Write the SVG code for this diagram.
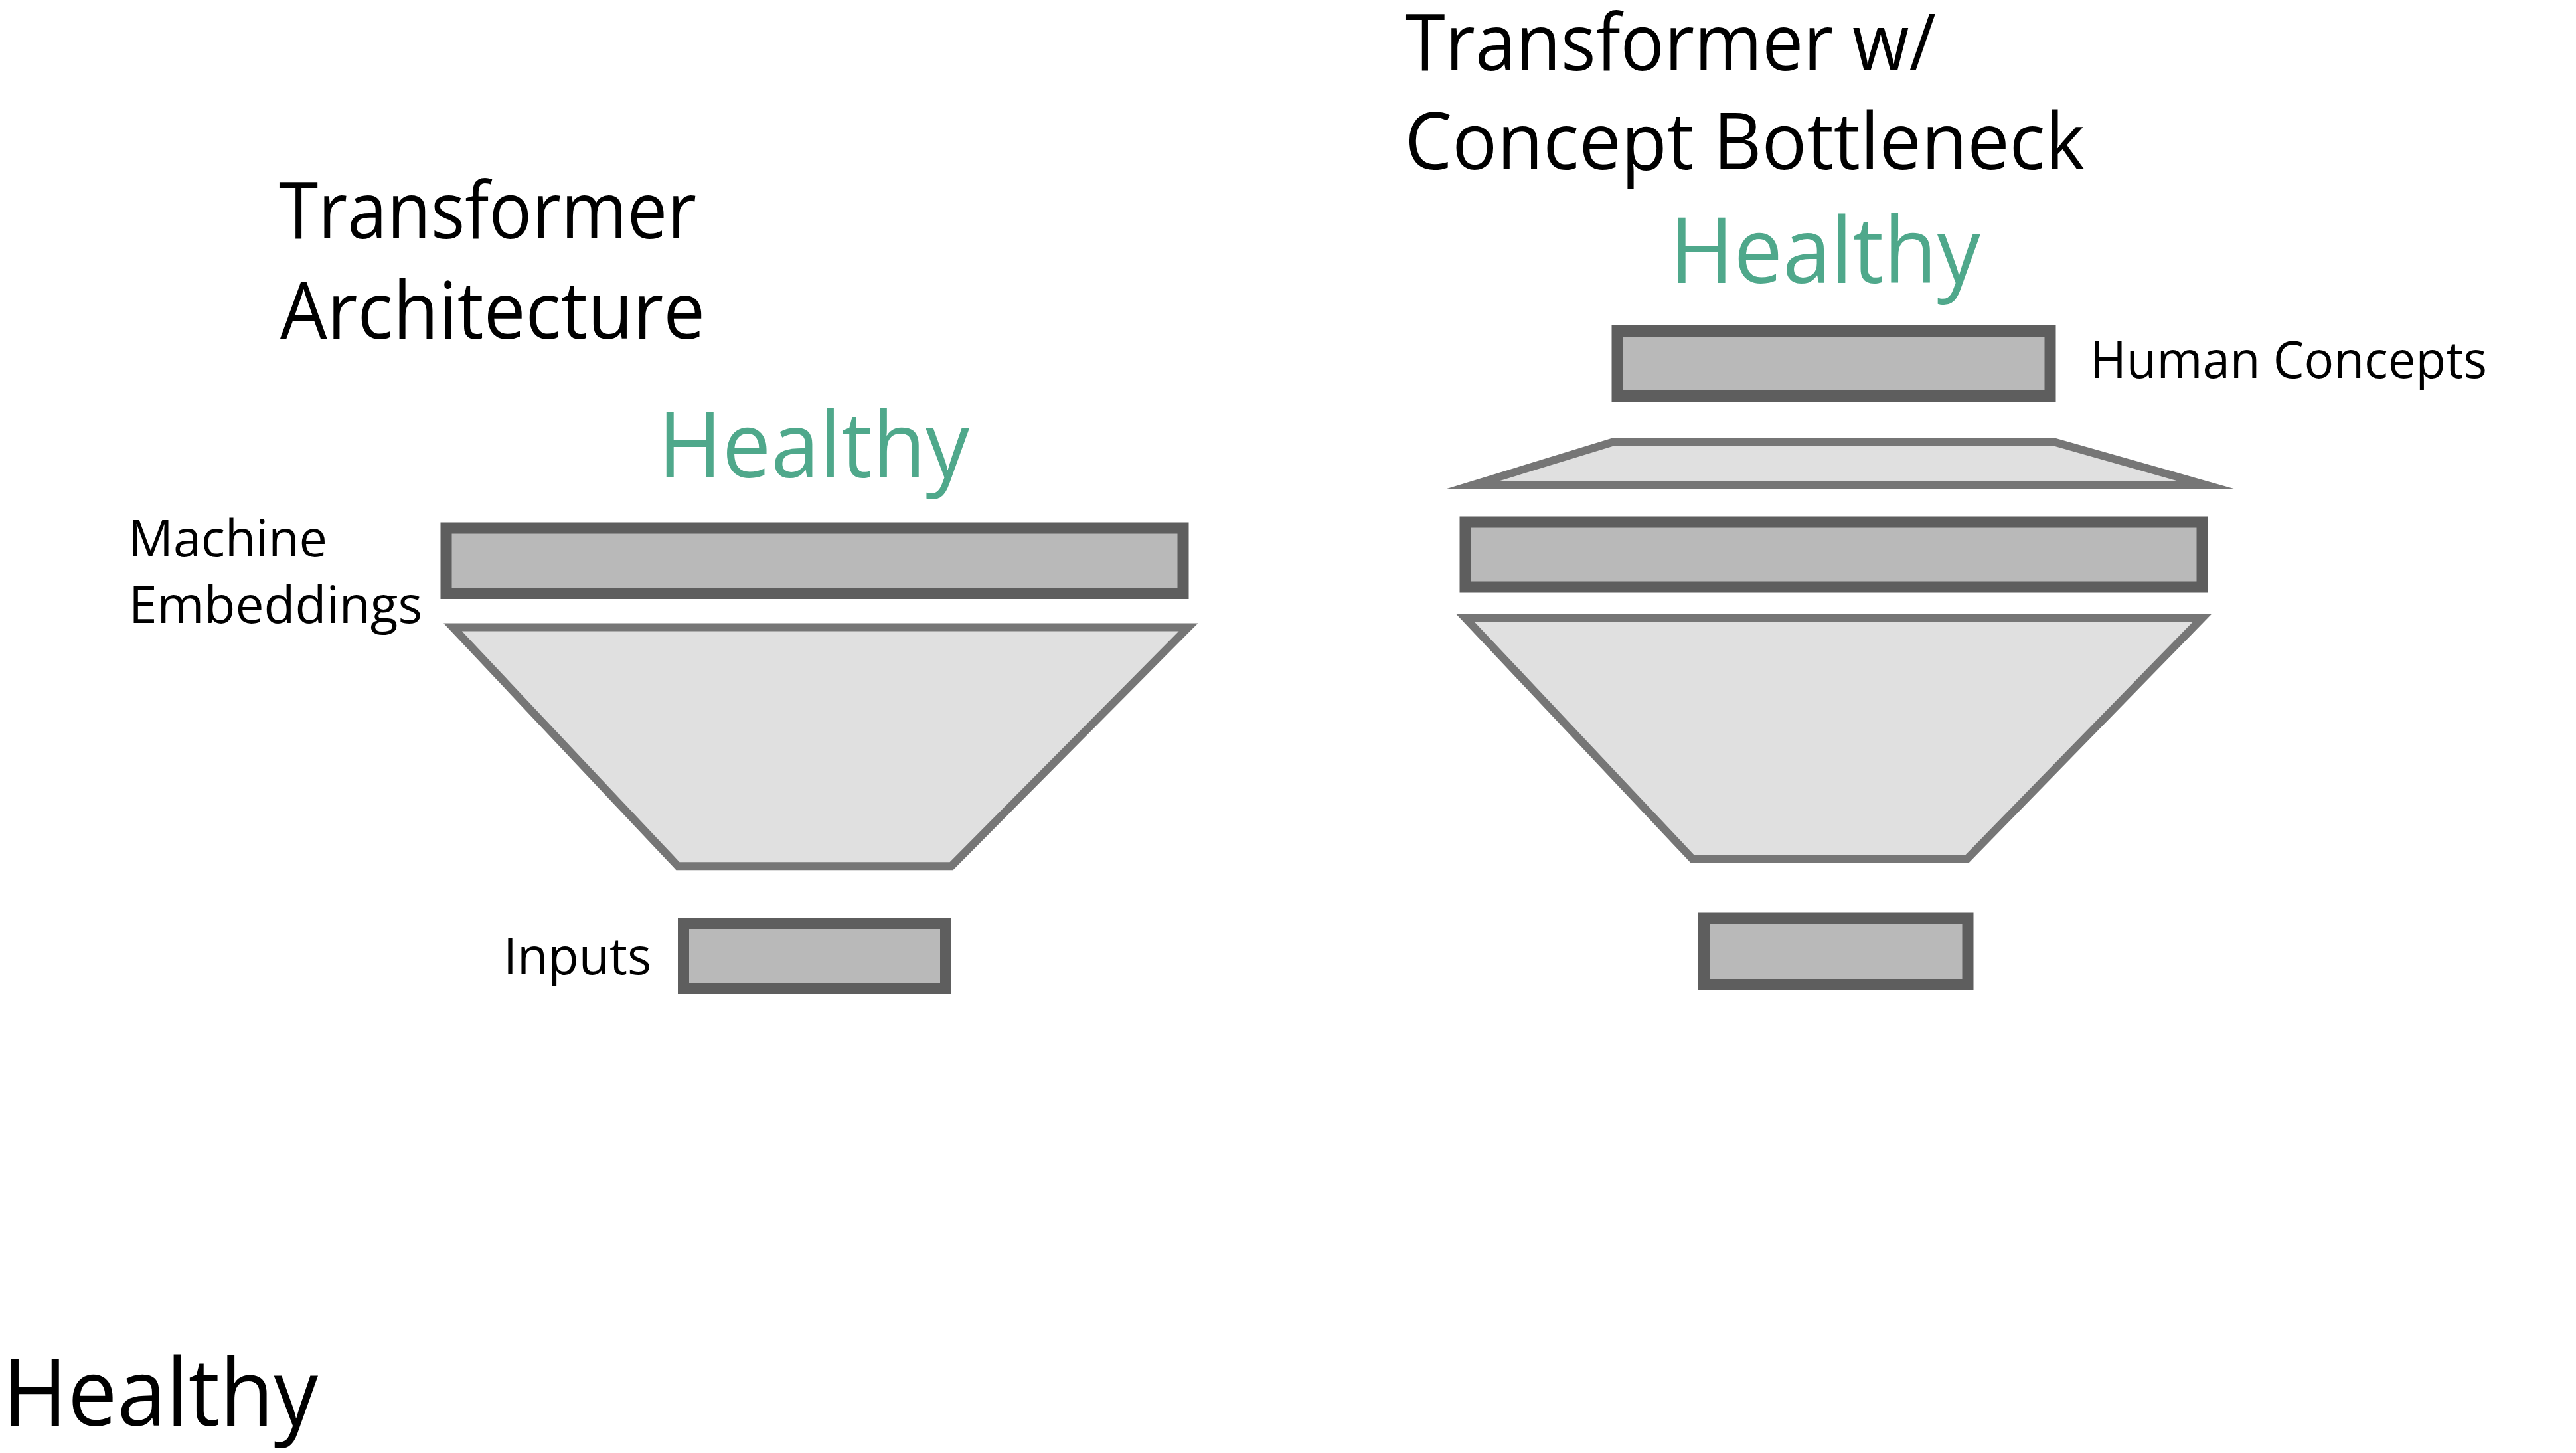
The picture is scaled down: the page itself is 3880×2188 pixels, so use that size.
<svg xmlns="http://www.w3.org/2000/svg" width="3880" height="2188" viewBox="0 0 3880 2188">
  <style>
    .blk { fill: #b9b9b9; stroke: #5e5e5e; stroke-width: 17; }
    .trap { fill: #e0e0e0; stroke: #767676; stroke-width: 12; stroke-miterlimit: 12; stroke-linejoin: miter; }
    .t { font-family: "Open Sans", "Noto Sans", "Liberation Sans", sans-serif; fill: #000; }
    .title { font-size: 119px; }
    .lbl { font-size: 77px; }
    .green { font-size: 137px; fill: #4fa88b; }
    .big { font-size: 141px; }
  </style>
  <rect width="3880" height="2188" fill="#ffffff"/>

  <!-- Left: Transformer Architecture -->
  <g id="left-title">
    <text class="t title" x="420" y="359" textLength="629" lengthAdjust="spacingAndGlyphs">Transformer</text>
    <text class="t title" x="422" y="510" textLength="640" lengthAdjust="spacingAndGlyphs">Architecture</text>
  </g>
  <g id="left-output">
    <text class="t green" x="991" y="719" textLength="469" lengthAdjust="spacingAndGlyphs">Healthy</text>
  </g>
  <g id="machine-embeddings">
    <rect class="blk" x="672" y="795" width="1110" height="98.5"/>
    <text class="t lbl" x="193" y="838" textLength="300" lengthAdjust="spacingAndGlyphs">Machine</text>
    <text class="t lbl" x="194" y="938" textLength="442" lengthAdjust="spacingAndGlyphs">Embeddings</text>
  </g>
  <g id="left-encoder">
    <polygon class="trap" points="682,944.5 1790,944.5 1433,1304.3 1021,1304.3"/>
  </g>
  <g id="inputs">
    <rect class="blk" x="1029.5" y="1390.5" width="395" height="98"/>
    <text class="t lbl" x="758" y="1467" textLength="223" lengthAdjust="spacingAndGlyphs">Inputs</text>
  </g>

  <!-- Right: Transformer w/ Concept Bottleneck -->
  <g id="right-title">
    <text class="t title" x="2116" y="106" textLength="800" lengthAdjust="spacingAndGlyphs">Transformer w/</text>
    <text class="t title" x="2116" y="255" textLength="1024" lengthAdjust="spacingAndGlyphs">Concept Bottleneck</text>
  </g>
  <g id="right-output">
    <text class="t green" x="2515" y="426" textLength="468" lengthAdjust="spacingAndGlyphs">Healthy</text>
  </g>
  <g id="human-concepts">
    <rect class="blk" x="2436" y="498.5" width="652" height="98"/>
    <text class="t lbl" x="3148" y="569" textLength="598" lengthAdjust="spacingAndGlyphs">Human Concepts</text>
  </g>
  <g id="concept-layer">
    <polygon class="trap" points="2428,666 3096,666 3325,731 2216,731"/>
  </g>
  <g id="right-embeddings">
    <rect class="blk" x="2207" y="786" width="1110" height="98"/>
  </g>
  <g id="right-encoder">
    <polygon class="trap" points="2207.5,931 3316.5,931 2963,1293.3 2549,1293.3"/>
  </g>
  <g id="right-inputs">
    <rect class="blk" x="2566.5" y="1383" width="397.5" height="99.5"/>
  </g>

  <g id="bottom-label">
    <text class="t big" x="4" y="2147" textLength="475" lengthAdjust="spacingAndGlyphs">Healthy</text>
  </g>
</svg>
